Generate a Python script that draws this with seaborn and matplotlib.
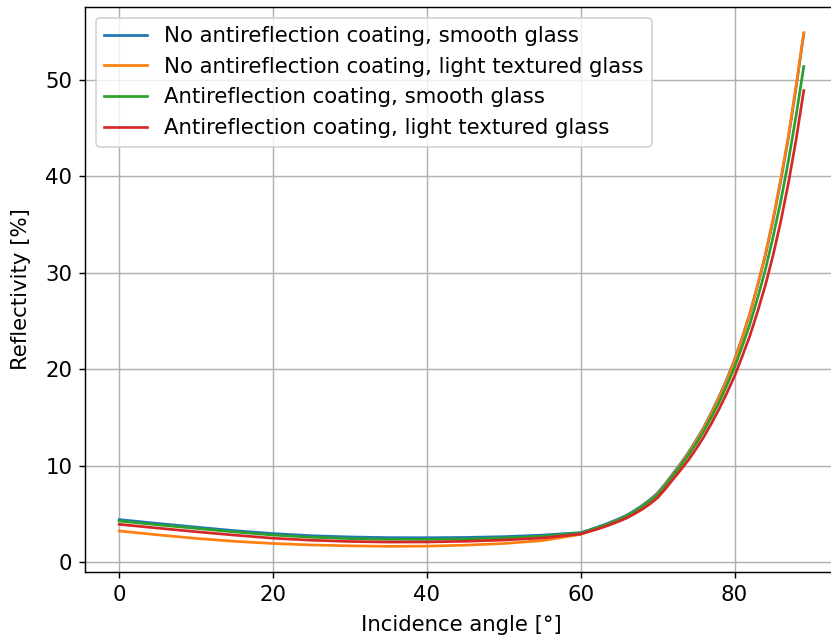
import matplotlib
matplotlib.use("Agg")
import matplotlib.pyplot as plt
import seaborn as sns
import pandas as pd

plt.rcParams["font.size"] = 11.8

# incidence angles [deg]
angles = [0, 5, 10, 15, 20, 25, 30, 35, 40, 45, 50, 55, 60,
          61, 62, 63, 64, 65, 66, 67, 68, 69, 70, 71, 72, 73, 74, 75,
          76, 77, 78, 79, 80, 81, 82, 83, 84, 85, 86, 87, 88, 89]

# reflectivity [%]
refl_no_ar_smooth = [4.43, 4.03, 3.65, 3.28, 2.98, 2.76, 2.63, 2.56, 2.55, 2.58, 2.66, 2.82, 3.08,
                     3.33, 3.6, 3.88, 4.2, 4.53, 4.9, 5.37, 5.9, 6.5, 7.2, 8.15, 9.2, 10.25, 11.4, 12.65,
                     14.0, 15.55, 17.2, 19.0, 21.0, 23.3, 25.8, 28.7, 31.8, 35.4, 39.5, 44.0, 49.2, 54.8]
refl_no_ar_textured = [3.25, 2.85, 2.48, 2.18, 1.95, 1.80, 1.71, 1.66, 1.68, 1.78, 1.95, 2.25, 2.90,
                       3.2, 3.5, 3.78, 4.1, 4.43, 4.8, 5.27, 5.8, 6.4, 7.1, 8.05, 9.1, 10.15, 11.3, 12.55,
                       13.9, 15.45, 17.1, 18.9, 20.9, 23.25, 25.8, 28.75, 31.9, 35.6, 39.7, 44.2, 49.4, 54.9]
refl_ar_smooth = [4.28, 3.89, 3.52, 3.15, 2.83, 2.60, 2.46, 2.39, 2.38, 2.42, 2.52, 2.70, 3.03,
                  3.29, 3.55, 3.81, 4.1, 4.43, 4.8, 5.27, 5.8, 6.35, 7.0, 7.95, 9.0, 10.0, 11.1, 12.3,
                  13.6, 15.05, 16.6, 18.35, 20.2, 22.4, 24.7, 27.4, 30.3, 33.7, 37.4, 41.6, 46.3, 51.4]
refl_ar_textured = [3.94, 3.55, 3.17, 2.82, 2.50, 2.29, 2.16, 2.10, 2.11, 2.18, 2.31, 2.52, 2.93,
                    3.17, 3.4, 3.66, 3.95, 4.26, 4.6, 5.03, 5.5, 6.05, 6.7, 7.6, 8.6, 9.58, 10.6, 11.75,
                    13.0, 14.4, 15.9, 17.55, 19.3, 21.35, 23.5, 26.0, 28.7, 31.8, 35.3, 39.3, 43.8, 48.9]

labels = ["No antireflection coating, smooth glass",
          "No antireflection coating, light textured glass",
          "Antireflection coating, smooth glass",
          "Antireflection coating, light textured glass"]
series = [refl_no_ar_smooth, refl_no_ar_textured, refl_ar_smooth, refl_ar_textured]

frames = []
for lab, vals in zip(labels, series):
    frames.append(pd.DataFrame({"angle": angles, "refl": vals, "case": lab}))
df = pd.concat(frames, ignore_index=True)

fig = plt.figure(figsize=(831 / 130, 639 / 130), dpi=130)
# right edge of the axes sits just outside the picture, like the reference crop
ax = fig.add_axes([85 / 831, 1 - 572 / 639, 753 / 831, 565 / 639])

sns.lineplot(data=df, x="angle", y="refl", hue="case", hue_order=labels,
             palette=sns.color_palette("tab10", 4), ax=ax, linewidth=1.5)

handles, labs = ax.get_legend_handles_labels()
ax.legend(handles, labs, loc="upper left")
ax.grid(True)
ax.set_xlabel("Incidence angle [°]", labelpad=5.5)
ax.set_ylabel("Reflectivity [%]", labelpad=8)
ax.set_xticks([0, 20, 40, 60, 80])
ax.set_yticks([0, 10, 20, 30, 40, 50])

fig.savefig("out.png", dpi=130)
